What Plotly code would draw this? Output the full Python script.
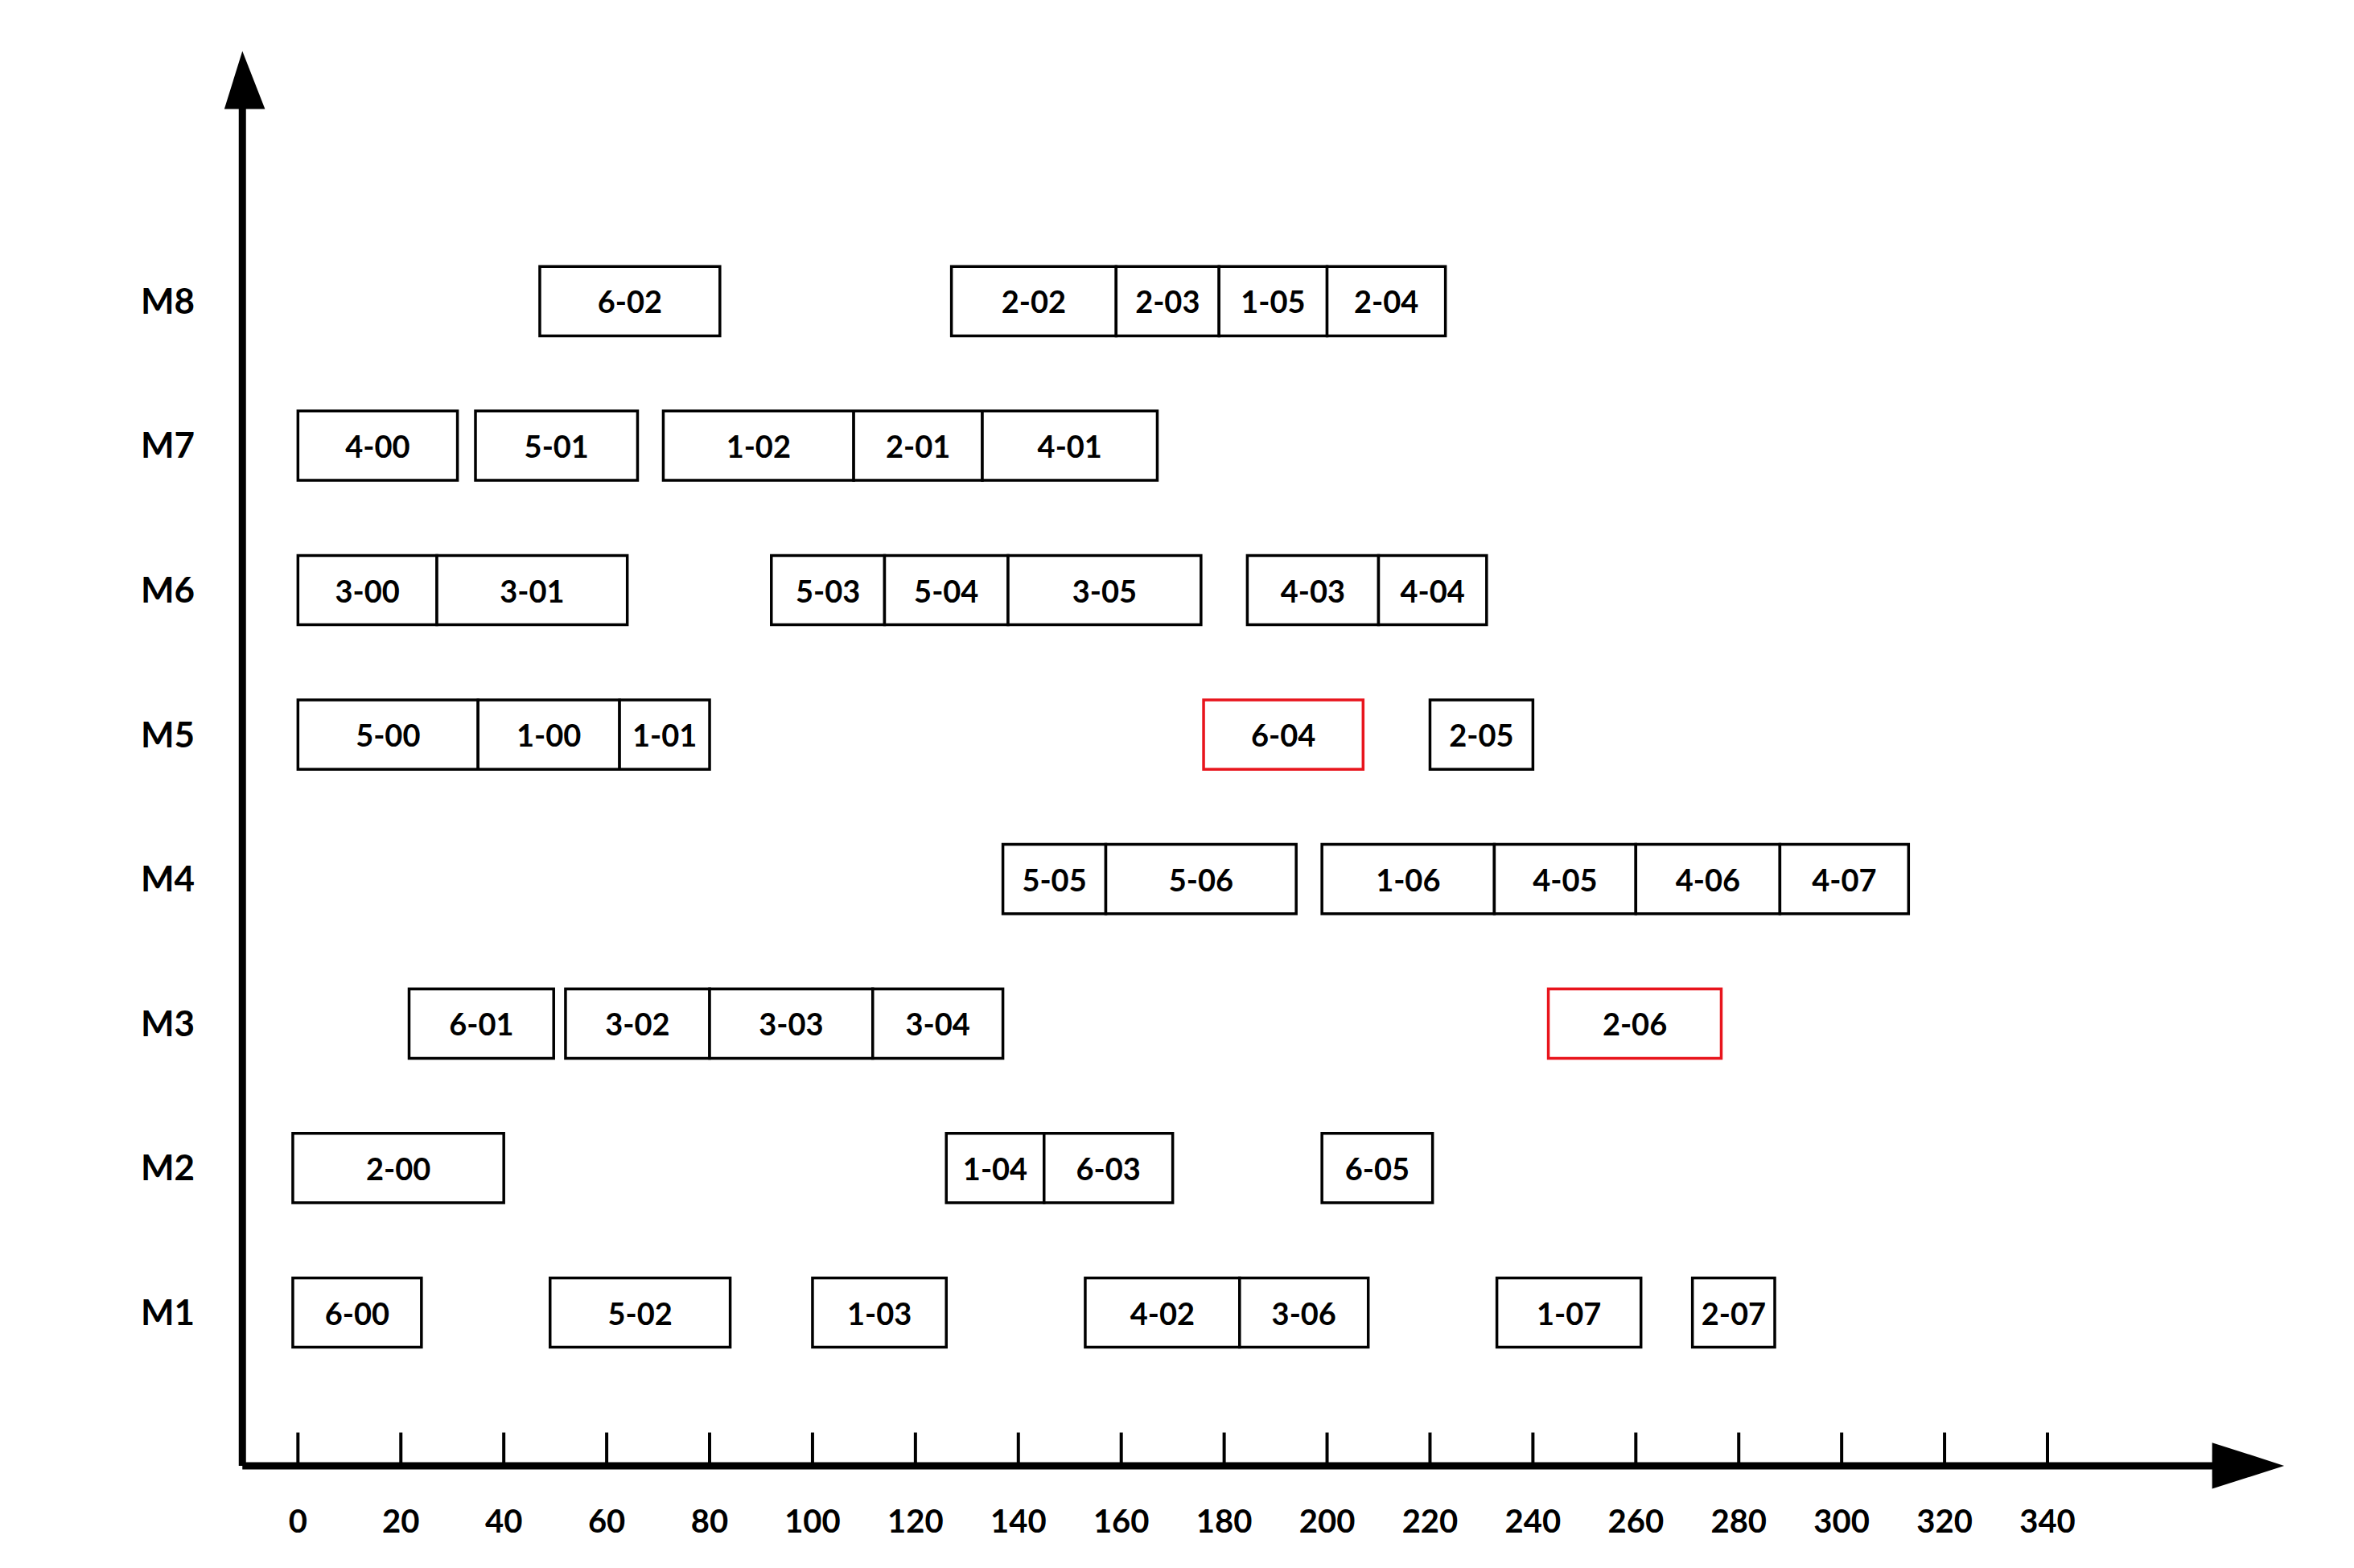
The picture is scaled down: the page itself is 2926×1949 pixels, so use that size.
import plotly.graph_objects as go

tasks = ["6-02","2-02","2-03","1-05","2-04",
         "4-00","5-01","1-02","2-01","4-01",
         "3-00","3-01","5-03","5-04","3-05","4-03","4-04",
         "5-00","1-00","1-01","6-04","2-05",
         "5-05","5-06","1-06","4-05","4-06","4-07",
         "6-01","3-02","3-03","3-04","2-06",
         "2-00","1-04","6-03","6-05",
         "6-00","5-02","1-03","4-02","3-06","1-07","2-07"]
machines = [8]*5 + [7]*5 + [6]*7 + [5]*5 + [4]*6 + [3]*5 + [2]*4 + [1]*7
starts = [47,127,159,179,200,
          0,34.5,71,108,133,
          0,27,92,114,138,184.5,210,
          0,35,62.5,176,220,
          137,157,199,232.5,260,288,
          21.6,52,80,111.7,243,
          -1,126,145,199,
          -1,49,100,153,183,233,271]
ends = [82,159,179,200,223,
        31,66,108,133,167,
        27,64,114,138,175.5,210,231,
        35,62.5,80,207,240,
        157,194,232.5,260,288,313,
        49.7,80,111.7,137,276.6,
        40,145,170,220.5,
        24,84,126,183,208,261,287]
highlight = ["6-04","2-06"]
machine_labels = ["M1","M2","M3","M4","M5","M6","M7","M8"]
time_ticks = list(range(0, 360, 20))

FONT = "Lato"
colors = ["#e8141c" if t in highlight else "black" for t in tasks]

fig = go.Figure(go.Bar(
    y=machines, x=[e - s for s, e in zip(starts, ends)], base=starts,
    orientation="h", width=0.48,
    marker=dict(color="white", line=dict(color=colors, width=3.5)),
    text=tasks, textposition="inside", insidetextanchor="middle",
    textfont=dict(family=FONT, size=38, color="black", weight="bold"),
    constraintext="none", hoverinfo="skip"))

Y0 = -0.06
X0 = -10.8
shapes = [
    dict(type="line", xref="x", yref="y", x0=X0, x1=375, y0=Y0, y1=Y0, line=dict(color="black", width=9)),
    dict(type="line", xref="x", yref="y", x0=X0, x1=X0, y0=Y0, y1=9.4, line=dict(color="black", width=9)),
    dict(type="path", xref="x", yref="y", path=f"M -14.3,9.33 L -6.4,9.33 L {X0},9.73 Z", fillcolor="black", line=dict(width=0)),
    dict(type="path", xref="x", yref="y", path="M 372,0.1 L 372,-0.22 L 386,-0.06 Z", fillcolor="black", line=dict(width=0)),
]
for t in time_ticks:
    shapes.append(dict(type="line", xref="x", yref="y", x0=t, x1=t, y0=Y0, y1=Y0 + 0.23,
                       line=dict(color="black", width=4)))

fig.update_layout(
    width=2926, height=1949, plot_bgcolor="white", paper_bgcolor="white",
    margin=dict(l=260, r=82, t=52, b=101), showlegend=False, shapes=shapes,
    font=dict(family=FONT, color="black"),
    xaxis=dict(range=[-16, 388], tickvals=time_ticks, ticks="", showgrid=False, zeroline=False,
               showline=False, tickfont=dict(family=FONT, size=40, weight="bold"), ticklabelstandoff=8),
    yaxis=dict(range=[-0.25, 9.75], tickvals=list(range(1, 9)), ticktext=machine_labels, ticks="",
               showgrid=False, zeroline=False, showline=False,
               tickfont=dict(family=FONT, size=44, weight="bold"), ticklabelstandoff=25),
    annotations=[
        dict(text="0", xref="x", yref="y", x=-19.3, y=-0.22,
             showarrow=False, font=dict(size=72, family=FONT)),
        dict(text="<b>Time</b>/min", xref="x", yref="y", x=399, y=-0.51,
             xanchor="right", showarrow=False, font=dict(size=60, family=FONT)),
        dict(text="<b>Assembly<br>island</b>", xref="x", yref="y", x=-36.3, y=8.92,
             showarrow=False, font=dict(size=48, family=FONT)),
    ],
)
fig.write_html("out.html")
